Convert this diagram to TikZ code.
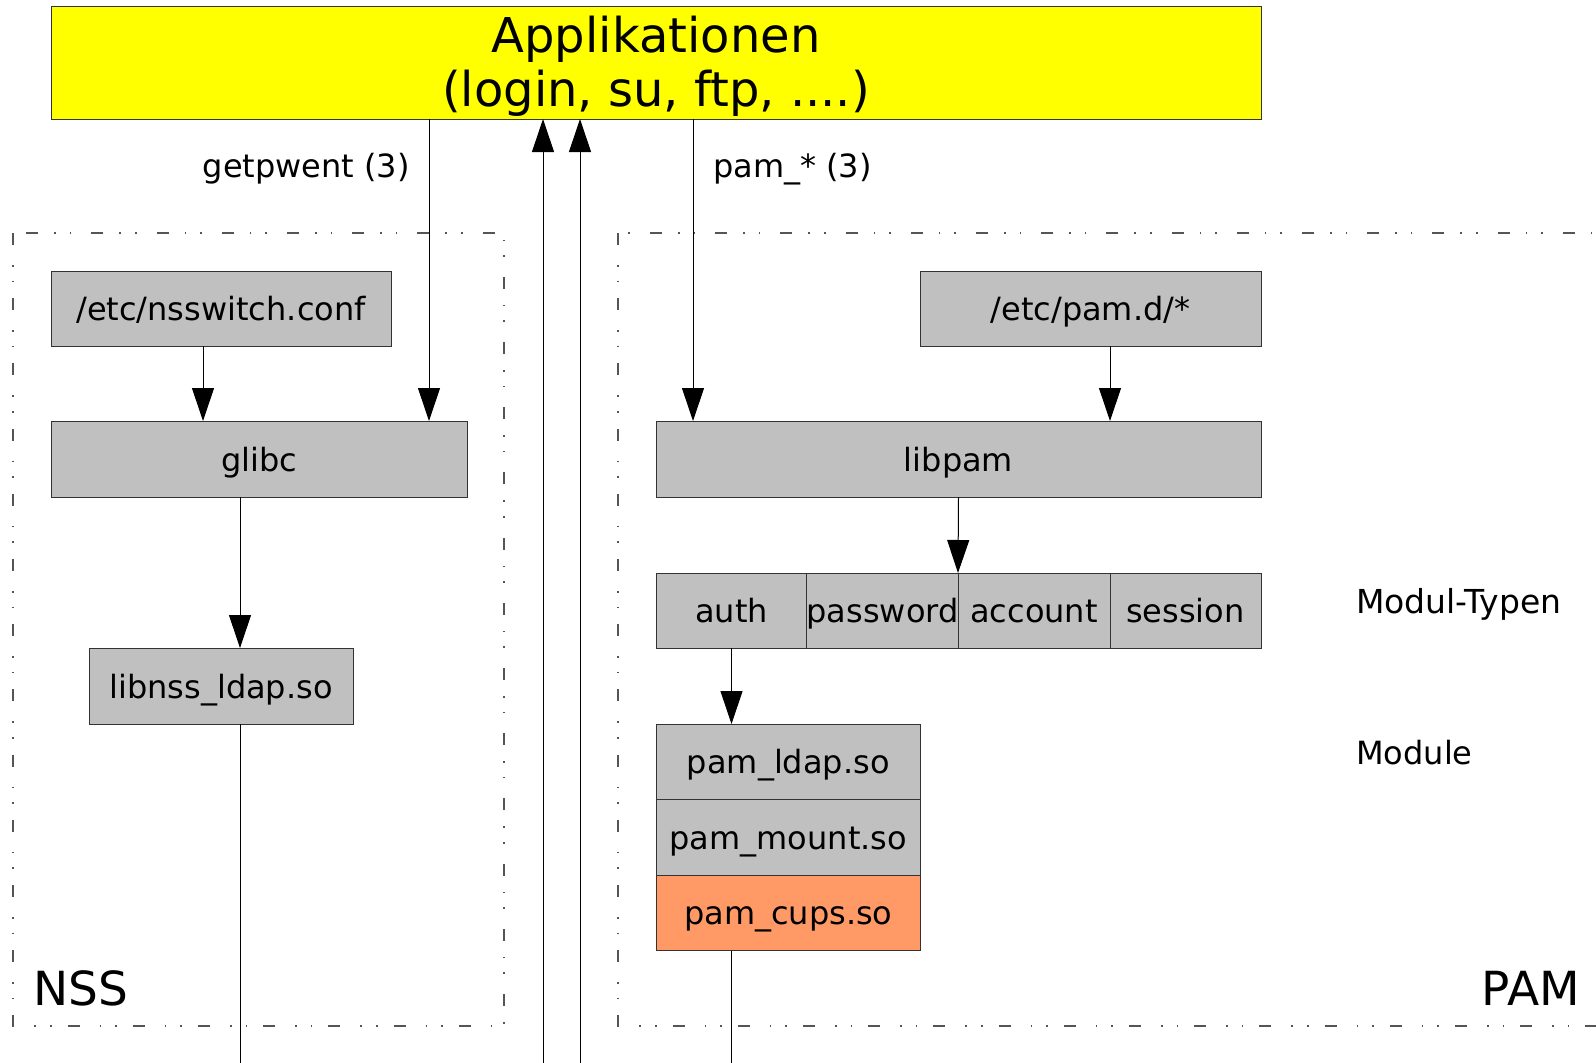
\documentclass[tikz,border=0pt]{standalone}
\usepackage{fontspec}
\setmainfont{DejaVu Sans}
\usetikzlibrary{arrows.meta}
\definecolor{boxgray}{HTML}{C0C0C0}
\definecolor{boxorange}{HTML}{FF9966}
\definecolor{edgegray}{HTML}{333333}
\definecolor{framegray}{HTML}{555555}
\definecolor{appyellow}{HTML}{FFFF00}
\tikzset{
  box/.style={draw=edgegray, line width=1pt, fill=boxgray, inner sep=0pt, outer sep=0pt,
    font=\fontsize{32}{38}\selectfont, text=black, text height=26pt, text depth=2pt},
  arr/.style={draw=black, line width=1pt, -{Triangle[length=33pt,width=22pt]}},
  plain/.style={draw=black, line width=1pt},
  frame/.style={draw=framegray, line width=1.4pt,
    dash pattern=on 12pt off 20pt on 1.6pt off 14pt on 1.6pt off 16pt},
  lbl/.style={inner sep=0pt, font=\fontsize{32}{38}\selectfont},
  big/.style={inner sep=0pt, font=\fontsize{47}{54}\selectfont}
}
\begin{document}
\begin{tikzpicture}[x=1pt,y=-1pt]
\useasboundingbox (0,0) rectangle (1596,1063);
\clip (0,0) rectangle (1596,1063);
\fill[white] (0,0) rectangle (1596,1063);

% frames
\draw[frame] (13,233) rectangle (504,1026);
\draw[frame] (618,233) rectangle (1640,1026);

% application box
\node[draw=edgegray, line width=1pt, fill=appyellow, inner sep=0pt, outer sep=0pt,
  minimum width=1210pt, minimum height=113pt, font=\fontsize{48}{54}\selectfont]
  (app) at (656,62.5)
  {\raisebox{-6.5pt}[\height][\depth]{\setlength{\tabcolsep}{0pt}\begin{tabular}{c}Applikationen\\(login, su, ftp, ....)\end{tabular}}};

% NSS side
\node[box, minimum width=340pt, minimum height=75pt] (nssconf) at (221,308.5) {/etc/nsswitch.conf};
\node[box, minimum width=416pt, minimum height=76pt] (glibc) at (259,459) {glibc};
\node[box, minimum width=264pt, minimum height=76pt] (libnss) at (221,686) {libnss\_ldap.so};

% PAM side
\node[box, minimum width=341pt, minimum height=75pt] (pamd) at (1090.5,308.5) {/etc/pam.d/*};
\node[box, minimum width=605pt, minimum height=76pt] (libpam) at (958.5,459) {libpam};
\node[box, minimum width=151pt, minimum height=75pt] (auth) at (731.5,610.5) {auth};
\node[box, minimum width=151pt, minimum height=75pt] (password) at (882.5,610.5) {password};
\node[box, minimum width=152pt, minimum height=75pt] (account) at (1034,610.5) {account};
\node[box, minimum width=151pt, minimum height=75pt] (session) at (1185.5,610.5) {session};
\node[box, minimum width=264.5pt, minimum height=75.5pt] (pamldap) at (788.25,761.75) {pam\_ldap.so};
\node[box, minimum width=264.5pt, minimum height=75.5pt] (pammount) at (788.25,837.25) {pam\_mount.so};
\node[box, fill=boxorange, minimum width=264.5pt, minimum height=75.5pt] (pamcups) at (788.25,912.75) {pam\_cups.so};

% labels
\node[lbl, anchor=east] (lgetpw) at (410,169) {getpwent (3)};
\node[lbl, anchor=west] (lpam) at (713,169) {pam\_* (3)};
\node[lbl, anchor=west, font=\fontsize{33}{38}\selectfont] (ltypen) at (1356,604) {Modul-Typen};
\node[lbl, anchor=west] (lmodule) at (1356,753) {Module};
\node[big, anchor=west] (lnss) at (33,988) {NSS};
\node[big, anchor=east] (lpamb) at (1580,988) {PAM};

% free ends at the bottom
\coordinate (b1) at (240,1063);
\coordinate (b2) at (543,1063);
\coordinate (b3) at (580,1063);
\coordinate (b4) at (731.5,1063);

% connectors
\draw[arr] (nssconf.south -| 203,0) -- (glibc.north -| 203,0);
\draw[arr] (app.south -| 429,0) -- (glibc.north -| 429,0);
\draw[arr] (glibc.south -| 240,0) -- (libnss.north -| 240,0);
\draw[plain] (libnss.south -| b1) -- (b1);
\draw[arr] (b2) -- (app.south -| b2);
\draw[arr] (b3) -- (app.south -| b3);
\draw[arr] (app.south -| 693,0) -- (libpam.north -| 693,0);
\draw[arr] (pamd.south -| 1110,0) -- (libpam.north -| 1110,0);
\draw[arr] (libpam.south) -- (account.north west);
\draw[arr] (auth.south) -- (pamldap.north -| auth.south);
\draw[plain] (pamcups.south -| b4) -- (b4);
\end{tikzpicture}
\end{document}
